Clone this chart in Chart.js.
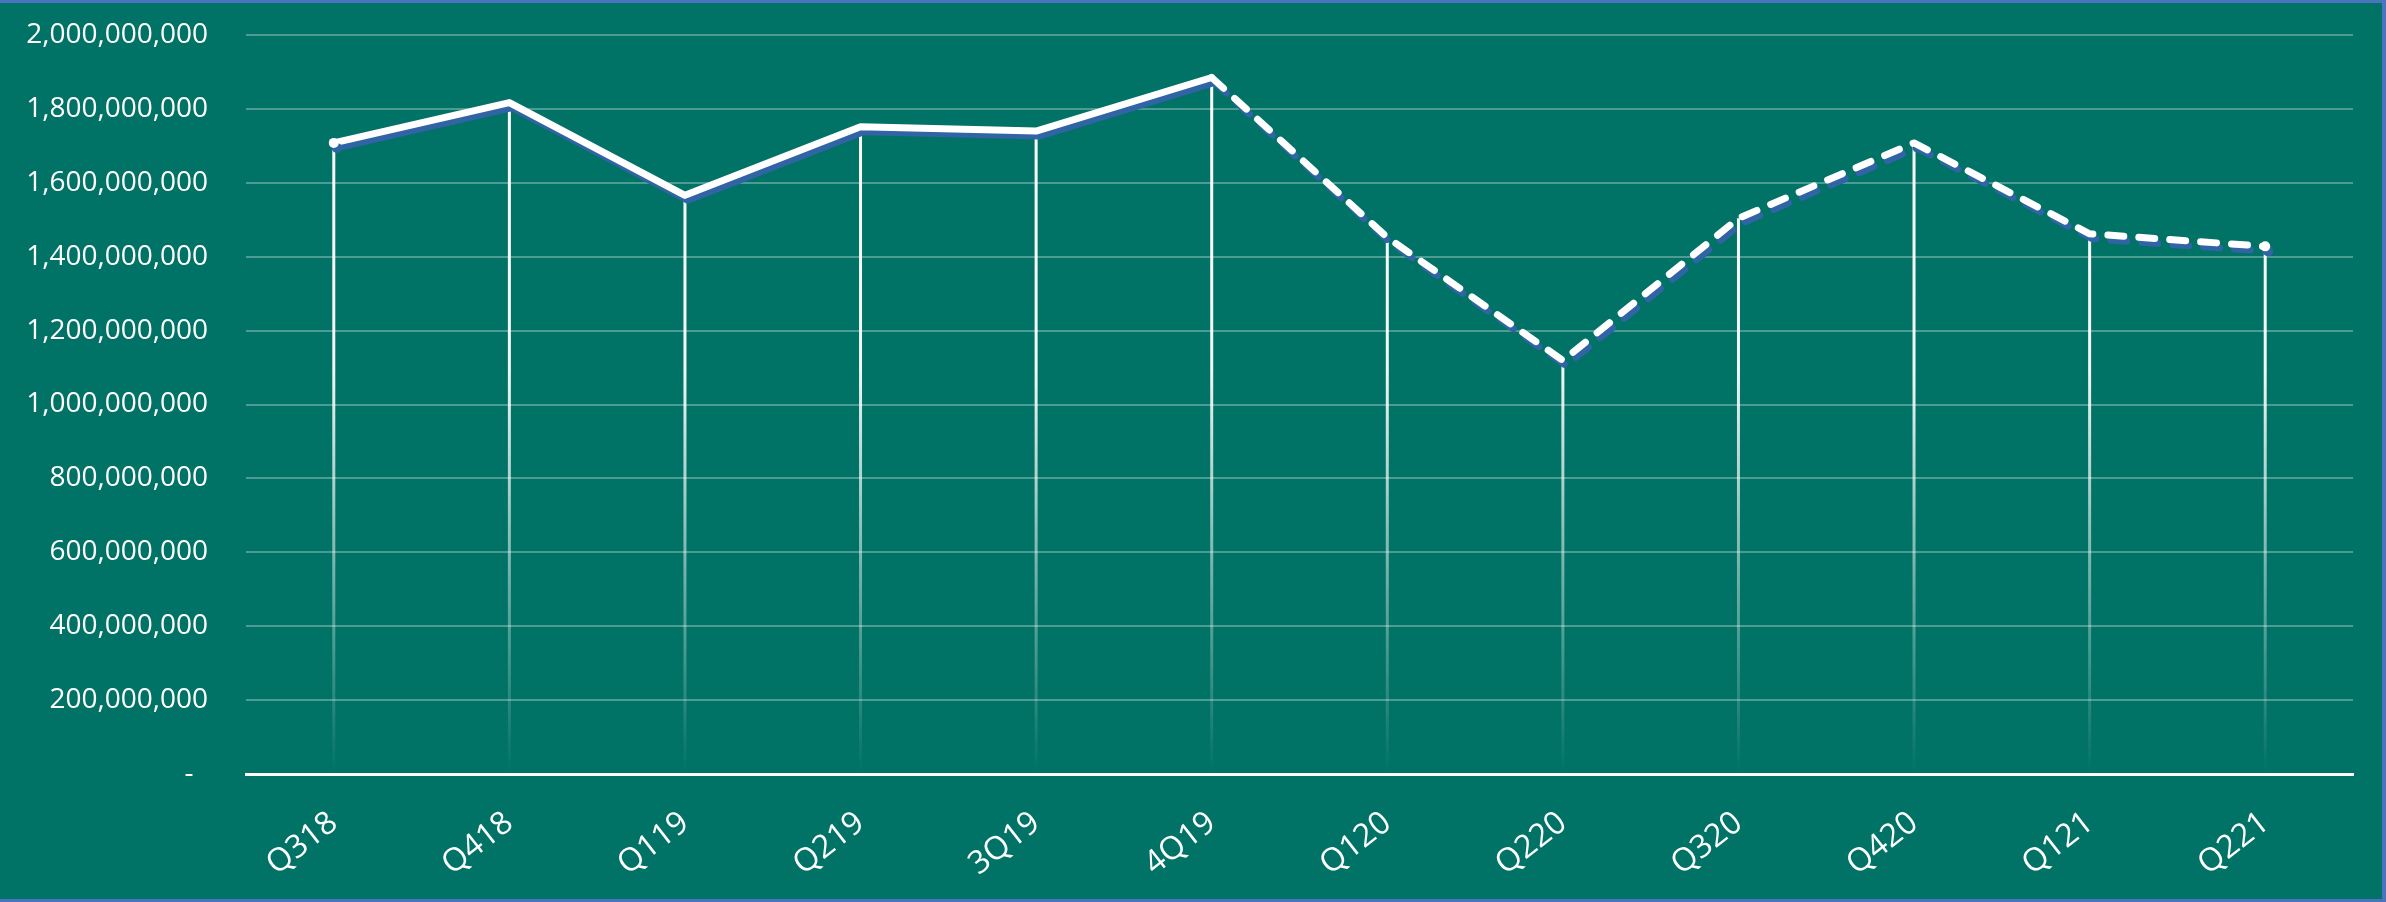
<!DOCTYPE html>
<html>
<head>
<meta charset="utf-8">
<title>Quarterly trend</title>
<script src="https://cdn.jsdelivr.net/npm/chart.js@4/dist/chart.umd.min.js"></script>
<style>
  html, body { margin: 0; padding: 0; background: #007266; }
  #wrap { position: relative; width: 2386px; height: 902px; background: #007266; }
  #frame {
    position: absolute; left: 0; top: 0; right: 0; bottom: 0;
    border-top: 3px solid #4a74c0; border-right: 4px solid #4a74c0; border-bottom: 3px solid #4a74c0;
    pointer-events: none;
  }
</style>
</head>
<body>
<div id="wrap">
  <canvas id="chart" width="2386" height="902"></canvas>
  <div id="frame"></div>
</div>
<script>
// values
var quarters = ['Q318', 'Q418', 'Q119', 'Q219', '3Q19', '4Q19', 'Q120', 'Q220', 'Q320', 'Q420', 'Q121', 'Q221'];
var totals = [1708000000, 1817000000, 1566000000, 1752000000, 1740000000, 1885000000,
              1452000000, 1119000000, 1504000000, 1708000000, 1462000000, 1428000000];
var dashedFrom = 5;           // line turns dashed after this point
var yMax = 2000000000;
var yStep = 200000000;

var white = '#ffffff';
var fontSans = "'Open Sans', sans-serif";

// vertical drop lines from each point to the axis, fading out near the bottom
var dropLines = {
  id: 'dropLines',
  beforeDatasetsDraw: function(chart) {
    var ctx = chart.ctx;
    var area = chart.chartArea;
    var yScale = chart.scales.y;
    var base = yScale.getPixelForValue(0);
    var grad = ctx.createLinearGradient(0, area.top, 0, area.bottom);
    grad.addColorStop(0, 'rgba(255,255,255,1)');
    grad.addColorStop(0.45, 'rgba(255,255,255,0.95)');
    grad.addColorStop(0.7, 'rgba(255,255,255,0.5)');
    grad.addColorStop(1, 'rgba(255,255,255,0)');
    var meta = chart.getDatasetMeta(0);
    ctx.save();
    ctx.strokeStyle = grad;
    ctx.lineWidth = 3;
    meta.data.forEach(function(pt) {
      ctx.beginPath();
      ctx.moveTo(pt.x, pt.y);
      ctx.lineTo(pt.x, base);
      ctx.stroke();
    });
    ctx.restore();
  }
};

// blue offset shadow under the white line
var lineShadow = {
  id: 'lineShadow',
  beforeDatasetDraw: function(chart) {
    var ctx = chart.ctx;
    ctx.save();
    ctx.shadowColor = '#3064a4';
    ctx.shadowOffsetX = 3;
    ctx.shadowOffsetY = 5;
    ctx.shadowBlur = 0;
  },
  afterDatasetDraw: function(chart) {
    chart.ctx.restore();
  }
};

new Chart(document.getElementById('chart'), {
  type: 'line',
  data: {
    labels: quarters,
    datasets: [{
      data: totals,
      borderColor: white,
      borderWidth: 7,
      borderCapStyle: 'round',
      borderJoinStyle: 'round',
      tension: 0,
      pointRadius: function(c) { return (c.dataIndex === 0 || c.dataIndex === quarters.length - 1) ? 5 : 0; },
      pointBorderWidth: 0,
      pointBackgroundColor: white,
      segment: {
        borderDash: function(c) { return c.p0DataIndex >= dashedFrom ? [16, 15] : undefined; }
      }
    }]
  },
  options: {
    responsive: false,
    animation: false,
    layout: { padding: { left: 0, top: 35, right: 33, bottom: 0 } },
    plugins: {
      legend: { display: false },
      tooltip: { enabled: false }
    },
    scales: {
      x: {
        offset: true,
        afterFit: function(scale) { scale.height = 128; },
        grid: { display: false, drawTicks: false },
        border: { display: true, color: white, width: 3 },
        ticks: {
          color: white,
          font: { family: fontSans, size: 32 },
          minRotation: 38,
          maxRotation: 38,
          autoSkip: false,
          padding: 30
        }
      },
      y: {
        min: 0,
        max: yMax,
        afterFit: function(scale) {
          scale.width = 246;
          // tick padding is for the gap to the labels, not extra room above the plot
          scale.paddingTop = 0;
          scale.paddingBottom = 0;
        },
        grid: { color: 'rgba(255,255,255,0.3)', lineWidth: 2, drawTicks: false },
        border: { display: false },
        ticks: {
          stepSize: yStep,
          color: white,
          font: { family: fontSans, size: 28 },
          padding: 38,
          callback: function(v) { return v === 0 ? '-  ' : v.toLocaleString('en-US'); }
        }
      }
    }
  },
  plugins: [dropLines, lineShadow]
});
</script>
</body>
</html>
